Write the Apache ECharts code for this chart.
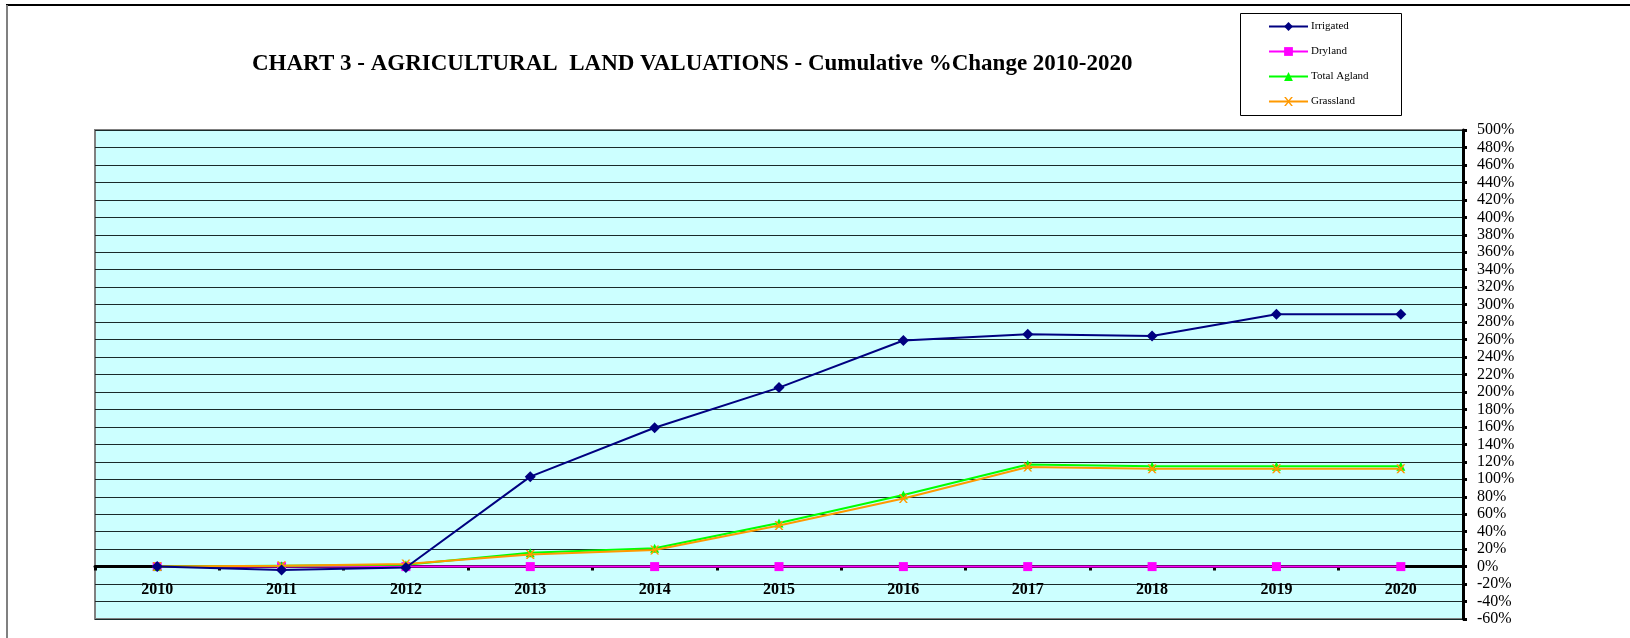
<!DOCTYPE html>
<html>
<head>
<meta charset="utf-8">
<script src="https://cdn.jsdelivr.net/npm/echarts@6/dist/echarts.min.js"></script>
<style>
html,body{margin:0;padding:0;background:#fff;}
#chart{width:1630px;height:638px;}
</style>
</head>
<body>
<div id="chart"></div>
<script>
const years = ['2010','2011','2012','2013','2014','2015','2016','2017','2018','2019','2020'];
const irrigated = [0, -4, -1, 103, 159, 205, 259, 266, 264, 289, 289];
const dryland = [0, 0, 0, 0, 0, 0, 0, 0, 0, 0, 0];
const totalAgland = [0, 1, 2, 16, 21, 50, 82, 117, 115, 115, 115];
const grassland = [0, 1, 3, 14, 19, 47, 78, 114, 112, 112, 112];
const titleText = 'CHART 3 - AGRICULTURAL  LAND VALUATIONS - Cumulative %Change 2010-2020';

const serif = 'Liberation Serif';
const xMark = 'path://M0,0 L2,0 L5,3.5 L8,0 L10,0 L6,5 L10,10 L8,10 L5,6.5 L2,10 L0,10 L4,5 Z';

const chart = echarts.init(document.getElementById('chart'));
chart.setOption({
  animation: false,
  backgroundColor: '#ffffff',
  title: {
    text: titleText,
    left: 247,
    top: 48,
    textStyle: { fontFamily: serif, fontSize: 23, fontWeight: 'bold', color: '#000' }
  },
  legend: {
    orient: 'vertical',
    left: 1268,
    top: 21,
    padding: 0,
    itemWidth: 39,
    itemHeight: 11,
    itemGap: 14,
    textStyle: { fontFamily: serif, fontSize: 11, color: '#000', padding: [0,0,0,-2] },
    data: ['Irrigated', 'Dryland', 'Total Agland', 'Grassland']
  },
  graphic: [
    { type: 'line', shape: { x1: 6, y1: 5, x2: 1630, y2: 5 }, style: { stroke: '#000', lineWidth: 2 } },
    { type: 'line', shape: { x1: 7, y1: 5, x2: 7, y2: 638 }, style: { stroke: '#808080', lineWidth: 2 } },
    { type: 'rect', shape: { x: 1240.5, y: 13.5, width: 161, height: 102 }, style: { fill: 'none', stroke: '#000', lineWidth: 1 }, z: -1 }
  ],
  grid: {
    left: 95, top: 130, width: 1368, height: 489,
    containLabel: false,
    outerBoundsMode: 'none',
    show: true, backgroundColor: '#CCFFFF', borderColor: '#808080', borderWidth: 2
  },
  xAxis: {
    type: 'category',
    data: years,
    boundaryGap: true,
    axisLine: { onZero: true, lineStyle: { color: '#000', width: 3 } },
    axisTick: { show: true, length: 4, lineStyle: { color: '#000', width: 3 } },
    axisLabel: { fontFamily: serif, fontSize: 16, fontWeight: 'bold', color: '#000', margin: -37 },
    splitLine: { show: false }
  },
  yAxis: {
    type: 'value',
    position: 'right',
    min: -60, max: 500, interval: 20,
    axisLine: { show: true, lineStyle: { color: '#000', width: 3 } },
    axisTick: { show: true, length: 4, lineStyle: { color: '#000', width: 3 } },
    axisLabel: { formatter: '{value}%', fontFamily: serif, fontSize: 16, color: '#000', margin: 14 },
    splitLine: { show: true, lineStyle: { color: '#1a2a2a', width: 1 } }
  },
  series: [
    { name: 'Grassland', type: 'line', data: grassland, symbol: xMark, symbolSize: 9,
      itemStyle: { color: '#FF9900' }, lineStyle: { color: '#FF9900', width: 2 }, z: 3 },
    { name: 'Total Agland', type: 'line', data: totalAgland, symbol: 'triangle', symbolSize: 9,
      itemStyle: { color: '#00FF00' }, lineStyle: { color: '#00FF00', width: 2 }, z: 2 },
    { name: 'Dryland', type: 'line', data: dryland, symbol: 'rect', symbolSize: 9,
      itemStyle: { color: '#FF00FF' }, lineStyle: { color: '#FF00FF', width: 2 }, z: 1 },
    { name: 'Irrigated', type: 'line', data: irrigated, symbol: 'diamond', symbolSize: 11,
      itemStyle: { color: '#000080' }, lineStyle: { color: '#000080', width: 2 }, z: 4 }
  ]
});
</script>
</body>
</html>
